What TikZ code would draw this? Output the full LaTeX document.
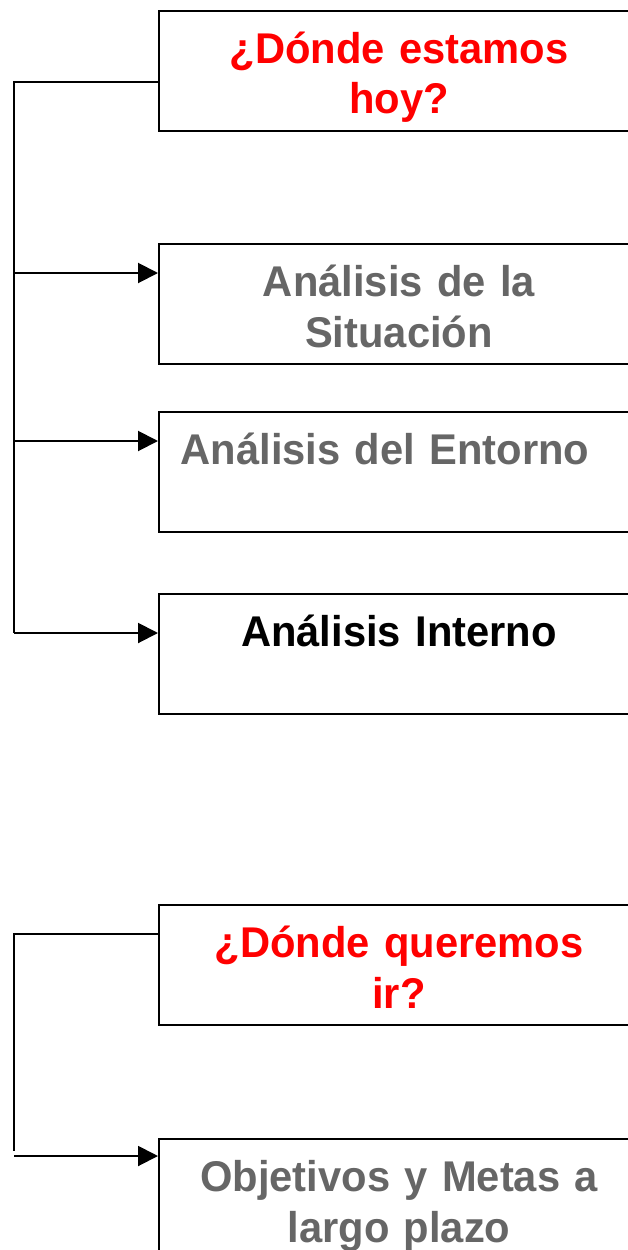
\documentclass[tikz,border=0pt]{standalone}
\usepackage{fontspec}
\setmainfont{Liberation Sans}
\newfontfamily\cajafont[FakeStretch=0.97, WordSpace=0.85]{Liberation Sans}
\usetikzlibrary{arrows.meta,positioning}
\definecolor{pregunta}{RGB}{255,0,0}
\definecolor{gris}{RGB}{102,102,102}
\tikzset{
	caja/.style = {draw, line width = 2pt, anchor = north west, inner sep = 0pt,
		text width = 480pt, align = center, text height = 52pt, text depth = 68pt,
		font = \cajafont\fontsize{43}{51}\selectfont\bfseries},
	linea/.style = {line width = 2pt},
	flecha/.style = {line width = 2pt, -{Triangle[length = 20pt, width = 20pt]}}
}

\begin{document}
\begin{tikzpicture}[x = 1pt, y = -1pt]
	\useasboundingbox (0,0) rectangle (627,1250);
	\node[caja, text = pregunta] (hoy) at (158,10) {¿Dónde estamos\\hoy?};
	\node[caja, text = gris] (situacion) at (158,243) {Análisis de la\\Situación};
	\node[caja, text = gris] (entorno) at (158,411) {Análisis del Entorno\hspace*{28pt}};
	\node[caja, text = black] (interno) at (158,593) {Análisis Interno};
	\node[caja, text = pregunta] (ir) at (158,904) {¿Dónde queremos\\ir?};
	\node[caja, text = gris] (objetivos) at (158,1138) {Objetivos y Metas a\\largo plazo};

	\coordinate (s0) at (14,82);
	\coordinate (s1) at (14,273);
	\coordinate (s2) at (14,441);
	\coordinate (s3) at (14,633);
	\draw[linea] (s0 -| hoy.west) -- (s0) -- (s3);
	\draw[flecha] (s1) -- (s1 -| situacion.west);
	\draw[flecha] (s2) -- (s2 -| entorno.west);
	\draw[flecha] (s3) -- (s3 -| interno.west);

	\coordinate (t0) at (14,934);
	\coordinate (t1) at (14,1151);
	\coordinate (t2) at (14,1156);
	\draw[linea] (t0 -| ir.west) -- (t0) -- (t1);
	\draw[flecha] (t2) -- (t2 -| objetivos.west);
\end{tikzpicture}
\end{document}
